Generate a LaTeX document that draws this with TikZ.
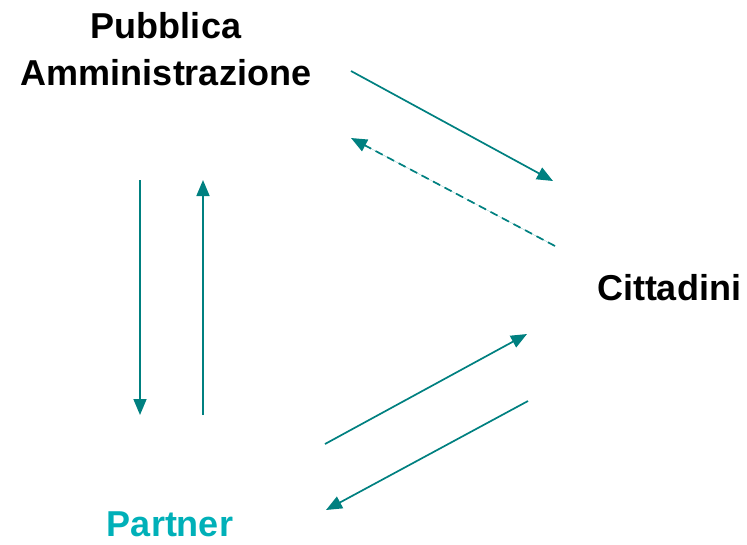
\documentclass[tikz,border=0pt]{standalone}
\usepackage{fontspec}
\setmainfont{Liberation Sans}
\usetikzlibrary{arrows.meta}
\definecolor{teal1}{RGB}{0,128,128}
\definecolor{partnercol}{RGB}{0,176,184}
\tikzset{
  lbl/.style={font=\bfseries\fontsize{36}{47}\selectfont, inner sep=0pt, align=center},
  conn/.style={draw=teal1, line width=1.7pt, -{Triangle[length=16pt,width=13pt]}, fill=teal1},
  dconn/.style={conn, dash pattern=on 8pt off 5pt}
}
\begin{document}
\begin{tikzpicture}[x=1pt,y=-1pt]
\useasboundingbox (0,0) rectangle (747,544);
\node[lbl, anchor=base] (pa) at (166,85) {Pubblica\\Amministrazione};
\node[lbl, anchor=base] (cit) at (669,300) {Cittadini};
\node[lbl, anchor=base, text=partnercol] (par) at (170,536) {Partner};
\coordinate (a1) at (351,71);  \coordinate (a2) at (553,181);
\coordinate (b1) at (555,246); \coordinate (b2) at (351,138);
\coordinate (c1) at (140,180); \coordinate (c2) at (140,415);
\coordinate (d1) at (203,415); \coordinate (d2) at (203,180);
\coordinate (e1) at (325,444); \coordinate (e2) at (527,334);
\coordinate (f1) at (528,401); \coordinate (f2) at (326,510);
\draw[conn] (a1) -- (a2);
\draw[dconn] (b1) -- (b2);
\draw[conn] (c1) -- (c2);
\draw[conn] (d1) -- (d2);
\draw[conn] (e1) -- (e2);
\draw[conn] (f1) -- (f2);
\end{tikzpicture}
\end{document}
